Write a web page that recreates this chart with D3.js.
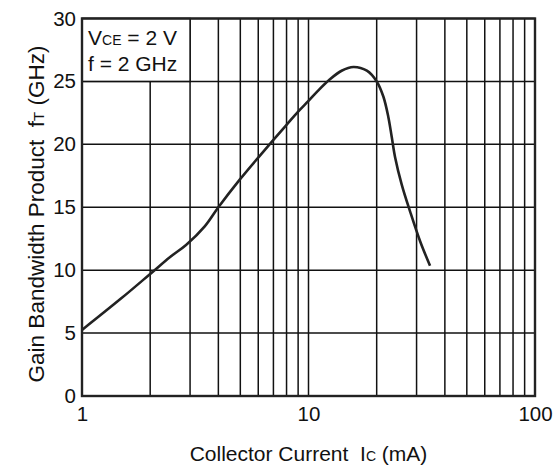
<!DOCTYPE html>
<html>
<head>
<meta charset="utf-8">
<script src="https://cdn.jsdelivr.net/npm/d3@7"></script>
<style>
  html, body { margin: 0; padding: 0; background: #fff; }
  svg { display: block; font-family: "Liberation Sans", Arial, Helvetica, sans-serif; }
  text { white-space: pre; }
</style>
</head>
<body>
<div id="chart"></div>
<script>
// Data
const currentMA = [1, 1.5, 2, 2.45, 2.88, 3.49, 4, 5, 6, 7, 8, 9, 10, 11, 12.4, 14, 15.8, 18.1, 20, 21.4, 22.5, 23.3, 24.1, 25.8, 28.1, 31.1, 34.4];
const fTGHz     = [5.25, 7.8, 9.7, 11.05, 12.0, 13.5, 15.0, 17.25, 18.95, 20.35, 21.55, 22.6, 23.45, 24.25, 25.15, 25.85, 26.15, 25.85, 25.0, 23.8, 22.2, 20.6, 19.0, 16.8, 14.65, 12.3, 10.35];
const xTickLabels = [1, 10, 100];
const yTickLabels = [0, 5, 10, 15, 20, 25, 30];
const legendLines = [["V", "CE", " = 2 V"], ["f = 2 GHz", "", ""]];

const W = 557, H = 469;
const m = { left: 82, right: 22, top: 18.5, bottom: 73 };

const svg = d3.select("#chart").append("svg").attr("width", W).attr("height", H);

const x = d3.scaleLog().domain([1, 100]).range([m.left, W - m.right]);
const y = d3.scaleLinear().domain([0, 30]).range([H - m.bottom, m.top]);

// Grid
const grid = svg.append("g").attr("stroke", "#111").attr("stroke-width", 1.5);
grid.selectAll("line.v").data(x.ticks()).join("line")
  .attr("x1", d => x(d)).attr("x2", d => x(d))
  .attr("y1", y(0)).attr("y2", y(30));
grid.selectAll("line.h").data(yTickLabels).join("line")
  .attr("x1", x(1)).attr("x2", x(100))
  .attr("y1", d => y(d)).attr("y2", d => y(d));

// Legend box (covers grid)
svg.append("rect")
  .attr("x", x(1)).attr("y", y(30))
  .attr("width", x(3) - x(1)).attr("height", y(25) - y(30))
  .attr("fill", "#fff").attr("stroke", "#111").attr("stroke-width", 1.5);

const leg = svg.append("g").attr("font-size", 21).attr("fill", "#111");
legendLines.forEach((ln, i) => {
  const t = leg.append("text").attr("x", x(1) + 6).attr("y", y(30) + 26 + i * 26);
  t.append("tspan").text(ln[0]);
  if (ln[1]) t.append("tspan").attr("font-size", 14).text(ln[1]);
  if (ln[2]) t.append("tspan").text(ln[2]);
});

// Curve
const line = d3.line()
  .x((d, i) => x(currentMA[i]))
  .y(d => y(d))
  .curve(d3.curveCatmullRom.alpha(0.5));
svg.append("path")
  .datum(fTGHz)
  .attr("d", line)
  .attr("fill", "none")
  .attr("stroke", "#222")
  .attr("stroke-width", 2.6)
  .attr("stroke-linejoin", "round");

// Frame
svg.append("rect")
  .attr("x", x(1)).attr("y", y(30))
  .attr("width", x(100) - x(1)).attr("height", y(0) - y(30))
  .attr("fill", "none").attr("stroke", "#222").attr("stroke-width", 2.4);

// Axes
const xAxis = svg.append("g")
  .attr("transform", `translate(0,${y(0)})`)
  .call(d3.axisBottom(x).tickValues(xTickLabels).tickFormat(d3.format("d")).tickSize(0).tickPadding(10));
const yAxis = svg.append("g")
  .attr("transform", `translate(${x(1)},0)`)
  .call(d3.axisLeft(y).tickValues(yTickLabels).tickSize(0).tickPadding(6));
[xAxis, yAxis].forEach(a => {
  a.select(".domain").remove();
  a.selectAll("text").attr("font-size", 20.5).attr("fill", "#111")
    .attr("font-family", "'Liberation Sans', Arial, sans-serif");
});

// Axis titles
const xt = svg.append("text")
  .attr("x", (x(1) + x(100)) / 2).attr("y", 461)
  .attr("text-anchor", "middle").attr("font-size", 21).attr("fill", "#111");
xt.append("tspan").text("Collector Current  I");
xt.append("tspan").attr("font-size", 14).text("C");
xt.append("tspan").text(" (mA)");

const yt = svg.append("text")
  .attr("transform", `translate(44,214) rotate(-90)`)
  .attr("text-anchor", "middle").attr("font-size", 22.5).attr("fill", "#111");
yt.append("tspan").text("Gain Bandwidth Product  f");
yt.append("tspan").attr("font-size", 15).text("T");
yt.append("tspan").text(" (GHz)");
</script>
</body>
</html>
